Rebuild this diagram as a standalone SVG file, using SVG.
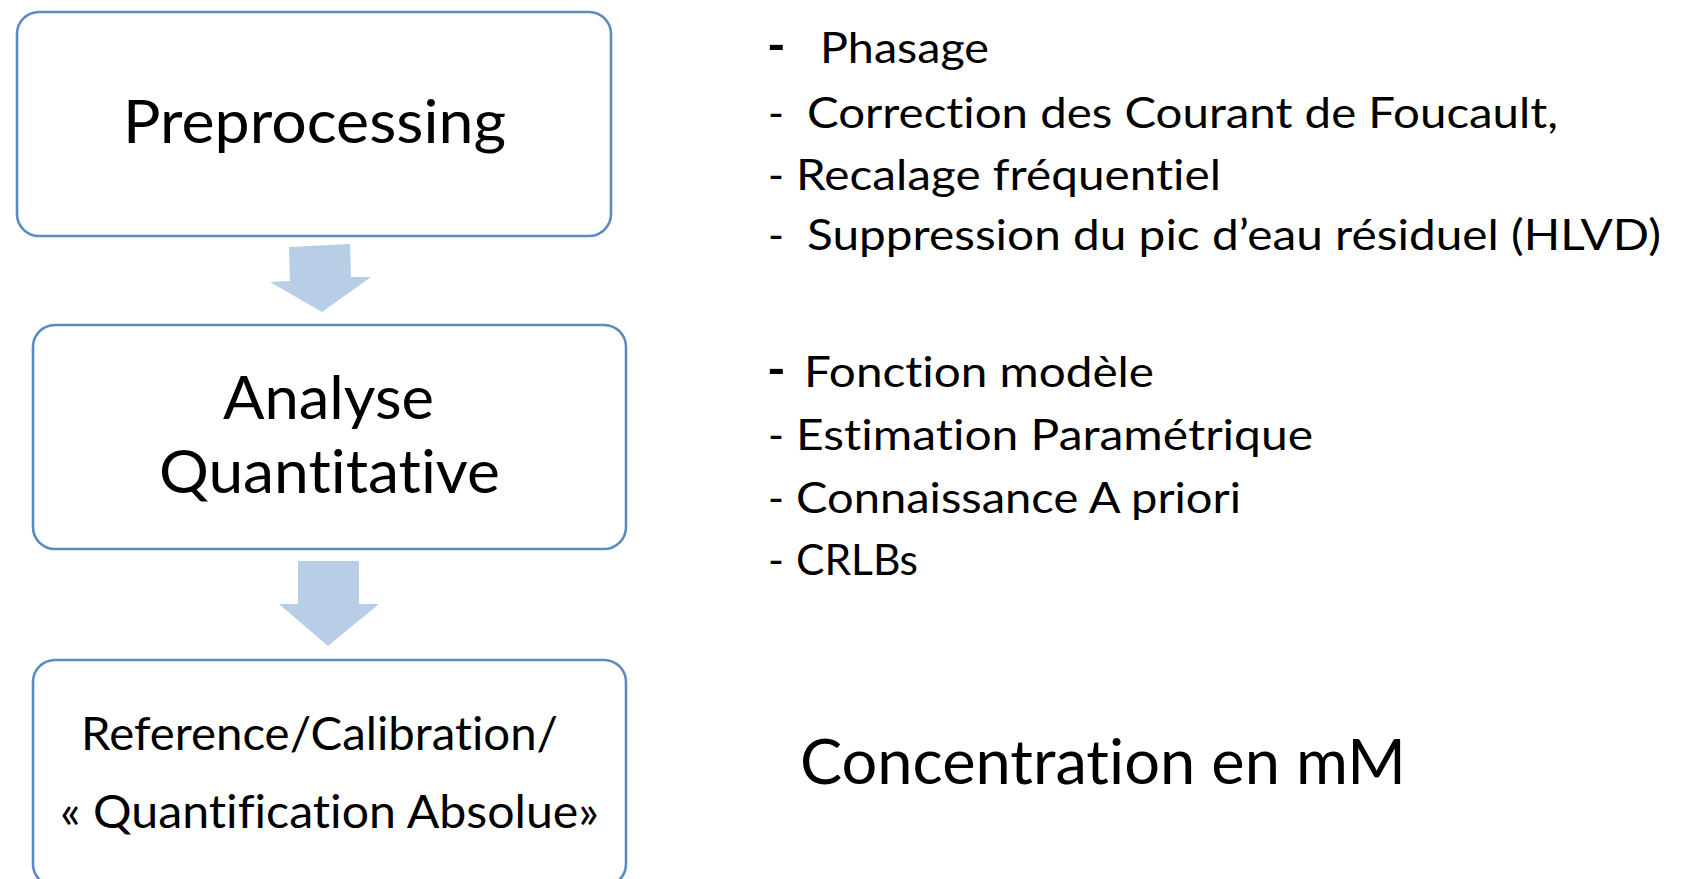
<svg xmlns="http://www.w3.org/2000/svg" width="1681" height="879" viewBox="0 0 1681 879">
<style>
.box{fill:#ffffff;stroke:#5b8cc1;stroke-width:2.6}
.arrow{fill:#b8cde6;stroke:none}
text{font-family:Lato,"Open Sans","Liberation Sans",sans-serif;fill:#000000;font-variant-ligatures:none;font-feature-settings:"liga" 0,"dlig" 0}
.big{font-size:60px}
.mid{font-size:46px}
.list{font-size:43px}
.conc{font-size:61px}
</style>
<rect width="1681" height="879" fill="#ffffff"/>
<g id="connectors">
<polygon class="arrow" points="289,247 350,244 351,277 371,277 322,312 270,282 290,281"/>
<polygon class="arrow" points="298,561 359,561 359,604 379,604 328,646 279,604 298,604"/>
</g>
<g id="node-preprocessing">
<rect class="box" x="17" y="12" width="594" height="224" rx="22" ry="22"/>
<text class="big" x="123" y="143" textLength="383" lengthAdjust="spacingAndGlyphs">Preprocessing</text>
</g>
<g id="node-analyse">
<rect class="box" x="33" y="325" width="593" height="224" rx="22" ry="22"/>
<text class="big" x="223" y="419" textLength="211" lengthAdjust="spacingAndGlyphs">Analyse</text>
<text class="big" x="159" y="493" textLength="341" lengthAdjust="spacingAndGlyphs">Quantitative</text>
</g>
<g id="node-reference">
<rect class="box" x="33" y="660" width="593" height="226" rx="22" ry="22"/>
<text class="mid" x="81" y="750" textLength="477" lengthAdjust="spacingAndGlyphs">Reference/Calibration/</text>
<text class="mid" x="60" y="828" textLength="539" lengthAdjust="spacingAndGlyphs">« Quantification Absolue»</text>
</g>
<g id="notes-preprocessing">
<text class="list" y="63"><tspan x="767" font-size="50" font-weight="bold">-</tspan><tspan x="820" textLength="169" lengthAdjust="spacingAndGlyphs">Phasage</tspan></text>
<text class="list" y="128"><tspan x="768">-</tspan><tspan x="807" textLength="751" lengthAdjust="spacingAndGlyphs">Correction des Courant de Foucault,</tspan></text>
<text class="list" y="190"><tspan x="768">-</tspan><tspan x="796" textLength="425" lengthAdjust="spacingAndGlyphs">Recalage fréquentiel</tspan></text>
<text class="list" y="250"><tspan x="768">-</tspan><tspan x="807" textLength="854" lengthAdjust="spacingAndGlyphs">Suppression du pic d’eau résiduel (HLVD)</tspan></text>
</g>
<g id="notes-analyse">
<text class="list" y="387"><tspan x="767" font-size="50" font-weight="bold">-</tspan><tspan x="804" textLength="350" lengthAdjust="spacingAndGlyphs">Fonction modèle</tspan></text>
<text class="list" y="450"><tspan x="768">-</tspan><tspan x="796" textLength="517" lengthAdjust="spacingAndGlyphs">Estimation Paramétrique</tspan></text>
<text class="list" y="513"><tspan x="768">-</tspan><tspan x="796" textLength="445" lengthAdjust="spacingAndGlyphs">Connaissance A priori</tspan></text>
<text class="list" y="575"><tspan x="768">-</tspan><tspan x="796" textLength="122" lengthAdjust="spacingAndGlyphs">CRLBs</tspan></text>
</g>
<g id="notes-result">
<text class="conc" x="800" y="784" textLength="606" lengthAdjust="spacingAndGlyphs">Concentration en mM</text>
</g>
</svg>
